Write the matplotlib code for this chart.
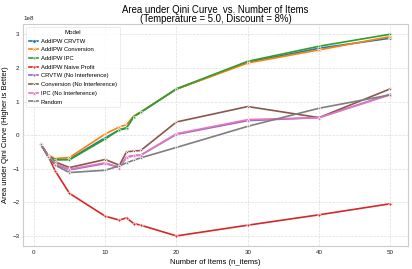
import matplotlib
matplotlib.use("Agg")
import matplotlib.pyplot as plt
import numpy as np

n_items = [1, 2, 3, 5, 10, 12, 13, 14, 15, 20, 30, 40, 50]

models = ["AddIPW CRVTW", "AddIPW Conversion", "AddIPW IPC", "AddIPW Naive Profit",
          "CRVTW (No Interference)", "Conversion (No Interference)",
          "IPC (No Interference)", "Random"]

addipw_crvtw = [-0.28, -0.62, -0.74, -0.72, -0.08, 0.15, 0.20, 0.55, 0.68, 1.37, 2.17, 2.59, 2.89]
addipw_conversion = [-0.28, -0.60, -0.70, -0.67, 0.03, 0.24, 0.31, 0.57, 0.69, 1.37, 2.15, 2.54, 2.94]
addipw_ipc = [-0.28, -0.62, -0.73, -0.74, -0.12, 0.16, 0.22, 0.55, 0.68, 1.38, 2.20, 2.65, 3.01]
addipw_naive = [-0.28, -0.62, -1.07, -1.74, -2.42, -2.54, -2.47, -2.64, -2.69, -3.01, -2.69, -2.38, -2.05]
crvtw_noint = [-0.28, -0.63, -0.87, -1.04, -0.85, -0.96, -0.67, -0.62, -0.60, 0.02, 0.43, 0.52, 1.22]
conversion_noint = [-0.28, -0.62, -0.80, -0.97, -0.73, -0.90, -0.50, -0.48, -0.46, 0.39, 0.85, 0.52, 1.38]
ipc_noint = [-0.28, -0.62, -0.85, -1.02, -0.83, -0.97, -0.65, -0.61, -0.60, 0.04, 0.46, 0.52, 1.20]
random_vals = [-0.28, -0.65, -0.90, -1.12, -1.05, -0.92, -0.83, -0.75, -0.68, -0.37, 0.26, 0.80, 1.20]

series = [addipw_crvtw, addipw_conversion, addipw_ipc, addipw_naive,
          crvtw_noint, conversion_noint, ipc_noint, random_vals]
colors = ["#1f77b4", "#ff7f0e", "#2ca02c", "#d62728", "#9467bd", "#8c564b", "#e377c2", "#7f7f7f"]
markers = ["o", "X", (4, 0, 45), "P", (4, 0, 0), (4, 1, 0), "^", (4, 1, 45)]

plt.rcParams['font.family'] = ['Arial', 'Liberation Sans', 'DejaVu Sans']

fig = plt.figure(figsize=(4.12, 2.69), dpi=100)
ax = fig.add_axes([0.057, 0.0855, 0.933, 0.825])
ax.set_facecolor("white")

for name, vals, c, m in zip(models, series, colors, markers):
    ax.plot(n_items, np.array(vals) * 1e8, color=c, marker=m, markersize=2.5,
            markeredgecolor="white", markeredgewidth=0.4, linewidth=1.2, label=name)

ax.grid(True, color="#dddddd", linestyle="--", linewidth=0.5)
for s in ax.spines.values():
    s.set_color("#cccccc")
    s.set_linewidth(0.8)
ax.tick_params(axis="both", labelsize=4.5, length=0, pad=3, colors="#222222")
ax.yaxis.get_offset_text().set_fontsize(4.5)
ax.set_xticks([0, 10, 20, 30, 40, 50])
ax.set_yticks(np.array([-3, -2, -1, 0, 1, 2, 3]) * 1e8)

ax.set_xlabel("Number of Items (n_items)", fontsize=5.5, labelpad=3)
ax.set_ylabel("Area under Qini Curve (Higher is Better)", fontsize=5.5, labelpad=2)
ax.set_title("Area under Qini Curve  vs. Number of Items\n(Temperature = 5.0, Discount = 8%)",
             fontsize=6.9, pad=1.0, linespacing=0.86)

leg = ax.legend(title="Model", loc="upper left", fontsize=4.2, title_fontsize=4.4,
                frameon=True, handlelength=1.5, handletextpad=0.5, labelspacing=0.62,
                borderpad=0.5)
leg.get_frame().set_edgecolor("#dddddd")
leg.get_frame().set_linewidth(0.5)

fig.savefig("out.png", dpi=100)
